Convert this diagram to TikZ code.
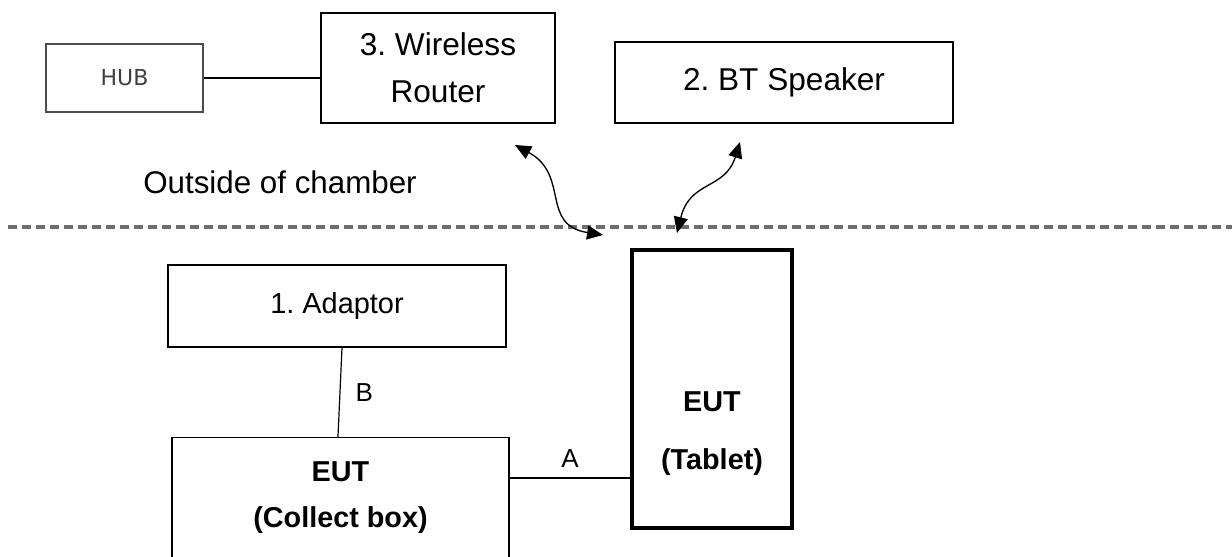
\documentclass[tikz,border=0pt]{standalone}
\usepackage{fontspec}
\setmainfont{Liberation Sans}
\newfontfamily\hubfont{DejaVu Sans}
\usepackage{tikz}
\usetikzlibrary{calc, positioning, arrows.meta}
\usepackage{xcolor}
\definecolor{colSep}{RGB}{110, 110, 110}
\frenchspacing

\begin{document}
\begin{tikzpicture}[
  x=0.75pt, y=-0.75pt,
  >={Triangle[length=12pt, width=10.5pt]},
  equip/.style={draw, line width=1.1pt, inner sep=0pt, align=center,
                font=\fontsize{23.7pt}{35.25pt}\selectfont},
  eutbox/.style={draw, line width=2.6pt, inner sep=0pt},
  eutlbl/.style={inner sep=0pt, align=center,
                 font=\bfseries\fontsize{21.6pt}{34.5pt}\selectfont},
  cable/.style={line width=0.9pt},
  cablelbl/.style={inner sep=0pt, font=\fontsize{19.5pt}{23pt}\selectfont},
  wireless/.style={<->, line width=1pt},
  chamber/.style={colSep, line width=2.6pt, dash pattern=on 6.75pt off 3.75pt}
]
\useasboundingbox (0,0) rectangle (1232,557);
\clip (0,0) rectangle (1232,557);

% ---------- Equipements hors chambre ----------
\node[equip, draw=black!70, text=black!75, minimum width=117.75pt, minimum height=51pt,
      font=\hubfont\fontsize{16.5pt}{20pt}\selectfont] (hub) at (124.5,78) {HUB};
\node[equip, minimum width=175.5pt, minimum height=82.5pt] (router) at (438,68)
  {3. Wireless\\Router};
\node[equip, minimum width=253.5pt, minimum height=60.75pt] (speaker) at (784,82.5)
  {2. BT Speaker};

\node[anchor=base west, inner sep=0pt, font=\fontsize{23.5pt}{28pt}\selectfont]
  (outside) at (143,193) {Outside of chamber};

% ---------- Limite de la chambre ----------
\coordinate (sepL) at (8,227);
\coordinate (sepR) at (1240,227);
\draw[chamber] (sepL) -- (sepR);

% ---------- Equipements dans la chambre ----------
\node[equip, minimum width=253.5pt, minimum height=61.5pt,
      font=\fontsize{21.7pt}{26pt}\selectfont] (adaptor) at (337,306) {1. Adaptor};
\node[eutbox, minimum width=120pt, minimum height=208.5pt] (tablet) at (712,389) {};
\node[eutlbl] (tabletTxt) at (712,433.7) {EUT\\[9pt](Tablet)};
% la boite du bas sort de la page
\node[equip, anchor=north, minimum width=252.75pt, minimum height=112.5pt]
  (collect) at (340.5,437) {};
\node[eutlbl] (collectTxt) at (340.5,497.7) {EUT\\(Collect box)};

% ---------- Cables ----------
\draw[cable] (hub.east) -- (hub.east -| router.west);
\draw[cable] ([xshift=3.75pt]adaptor.south) -- ([xshift=-1.9pt]collect.north)
  node[cablelbl, midway, anchor=west, xshift=11.25pt] (labB) {B};
\coordinate (aStart) at ([yshift=-30.75pt]collect.north east);
\draw[cable] (aStart) -- (aStart -| tablet.west)
  node[cablelbl, midway, above=7.5pt] (labA) {A};

% ---------- Liaisons sans fil ----------
\coordinate (routerLink) at (515,145);
\coordinate (tabletLinkR) at (603,235);
\coordinate (speakerLink) at (740,142);
\coordinate (tabletLinkS) at (677,233);
\draw[wireless] (routerLink) .. controls (570,175) and (540,225) .. (tabletLinkR);
\draw[wireless] (speakerLink) .. controls (725,190) and (690,180) .. (tabletLinkS);

\end{tikzpicture}
\end{document}
